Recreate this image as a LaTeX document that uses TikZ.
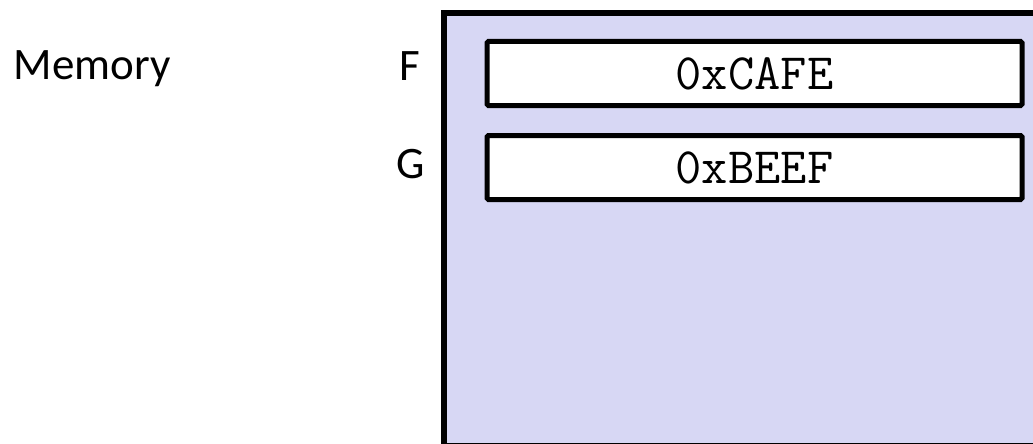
\documentclass[tikz,border=0pt]{standalone}
\usepackage{fontspec}
\setmainfont{Carlito}
\usepackage{tikz}
\usetikzlibrary{positioning}

\definecolor{memfill}{RGB}{215,215,244}

\tikzset{
    memcell/.style={draw, line width=5pt, fill=white, rounded corners=1.5pt,
        minimum width=535pt, minimum height=64pt, inner sep=0pt,
        font=\ttfamily\fontsize{51}{51}\selectfont},
    celllabel/.style={font=\fontsize{45}{45}\selectfont, inner sep=0pt}
}

\begin{document}
\begin{tikzpicture}[x=1pt, y=-1pt]
    \useasboundingbox (0,0) rectangle (1033,444);
    \clip (0,0) rectangle (1033,444);

    %memory block
    \draw[line width=6pt, fill=memfill] (444,13) rectangle (1045,446);

    %cells
    \node[memcell] (f) at (754.5,73.5) {0xCAFE};
    \node[memcell, below=25pt of f] (g) {0xBEEF};

    %labels
    \node[celllabel] (flab) at (410,66) {F};
    \node[celllabel] (glab) at (411,164) {G};
    \node[celllabel] (mem) at (92,69) {Memory};
\end{tikzpicture}
\end{document}
